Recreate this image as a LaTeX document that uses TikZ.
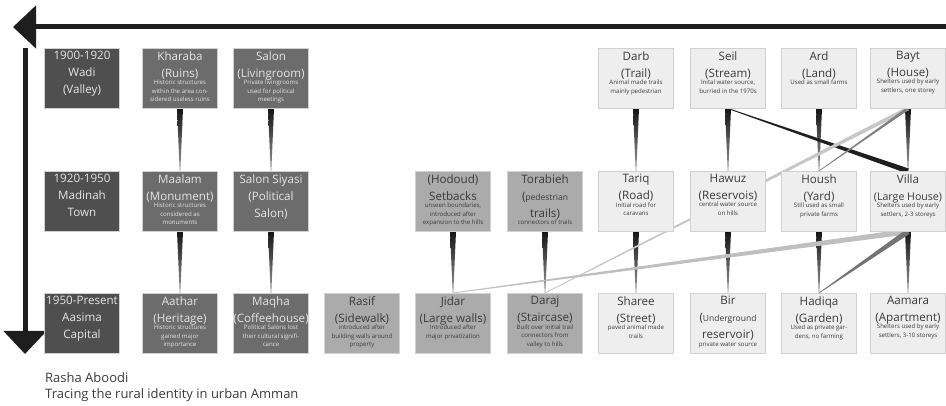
\documentclass[tikz,border=0pt]{standalone}
\usepackage{fontspec}
\setmainfont{Open Sans}
\usepackage{tikz}
\usetikzlibrary{arrows.meta,calc,backgrounds}
\definecolor{eragray}{HTML}{4F4F4F}
\definecolor{oldgray}{HTML}{6C6C6C}
\definecolor{midgray}{HTML}{ABABAB}
\definecolor{palegray}{HTML}{EEEEEE}
\definecolor{inkgray}{HTML}{3A3A3A}
\definecolor{linkgray}{HTML}{1E1E1E}
% box text: title lines, then small description
\newcommand{\cell}[2]{\makebox[75pt]{\parbox[c][58pt][t]{90pt}{\centering\vspace*{2pt}%
  \fontsize{11.6}{17}\selectfont #1\par\vspace{-1.4pt}%
  \fontsize{6.1}{8.7}\selectfont #2\par}}}
% tapered link: from, to, half width at from, half width at to
\newcommand{\taper}[5][]{\path[#1] ($(#2)!#4!90:(#3)$) -- ($(#3)!#5!-90:(#2)$)
  -- ($(#3)!#5!90:(#2)$) -- ($(#2)!#4!-90:(#3)$) -- cycle;}
\tikzset{
  cell/.style={rectangle, anchor=north, inner sep=0pt, minimum width=75pt,
               minimum height=60pt, draw=white!82!black, line width=0.5pt},
  era/.style={cell, fill=eragray, text=white!90!black},
  old/.style={cell, fill=oldgray, text=white!90!black},
  mid/.style={cell, fill=midgray, text=inkgray},
  pale/.style={cell, fill=palegray, text=inkgray},
  vlink/.style={top color=black!92, bottom color=black!40},
  timeline/.style={line width=5pt, draw=linkgray, fill=linkgray,
                   -{Triangle[length=23pt,width=42pt]}},
  credit/.style={anchor=base west, inner sep=0pt, text=inkgray, font=\fontsize{13}{15}\selectfont}
}
\begin{document}
\begin{tikzpicture}[x=1pt, y=-1pt]
      \useasboundingbox (0,0) rectangle (946,406);

      % time axes
      \coordinate (hstart) at (946,27);
      \coordinate (hend) at (13,27);
      \coordinate (vstart) at (25,48);
      \coordinate (vend) at (25,354);
      \draw[timeline] (hstart) -- (hend);
      \draw[timeline] (vstart) -- (vend);

      % 1900-1920
      \node[era] (wadi) at (82,48) {\cell{1900-1920\\Wadi\\(Valley)}{}};
      \node[old] (kharaba) at (180,48) {\cell{Kharaba\\(Ruins)}{Historic structures\\within the area con-\\sidered useless ruins}};
      \node[old] (salon) at (271,48) {\cell{Salon\\(Livingroom)}{Private livingrooms\\used for political\\meetings}};
      \node[pale] (darb) at (636,48) {\cell{Darb\\(Trail)}{Animal made trails\\mainly pedestrian}};
      \node[pale] (seil) at (728,48) {\cell{Seil\\(Stream)}{Inital water source,\\burried in the 1970s}};
      \node[pale] (ard) at (819,48) {\cell{Ard\\(Land)}{Used as small farms}};
      \node[pale] (bayt) at (908,48) {\cell{Bayt\\(House)}{Shelters used by early\\settlers, one storey}};

      % 1920-1950
      \node[era] (madinah) at (82,171) {\cell{1920-1950\\Madinah\\Town}{}};
      \node[old] (maalam) at (180,171) {\cell{Maalam\\(Monument)}{Historic structures\\considered as\\monuments}};
      \node[old] (siyasi) at (271,171) {\cell{Salon Siyasi\\(Political\\Salon)}{}};
      \node[mid] (hodoud) at (453,171) {\cell{(Hodoud)\\Setbacks}{unseen boundaries,\\introduced after\\expansion to the hills}};
      \node[mid] (torabieh) at (545,171) {\cell{Torabieh\\({\fontsize{8.5}{17}\selectfont pedestrian}\\trails)}{connectors of trails}};
      \node[pale] (tariq) at (636,171) {\cell{Tariq\\(Road)}{Initial road for\\caravans}};
      \node[pale] (hawuz) at (728,171) {\cell{Hawuz\\(Reservois)}{central water source\\on hills}};
      \node[pale] (housh) at (819,171) {\cell{Housh\\(Yard)}{Still used as small\\private farms}};
      \node[pale] (villa) at (908,171) {\cell{Villa\\{\fontsize{10.6}{17}\selectfont(Large House)}}{Shelters used by early\\settlers, 2-3 storeys}};

      % 1950-Present
      \node[era] (aasima) at (82,293) {\cell{1950-Present\\Aasima\\Capital}{}};
      \node[old] (aathar) at (180,293) {\cell{Aathar\\(Heritage)}{Historic structures\\gained major\\importance}};
      \node[old] (maqha) at (271,293) {\cell{Maqha\\(Coffeehouse)}{Political Salons lost\\their cultural signifi-\\cance}};
      \node[mid] (rasif) at (362,293) {\cell{Rasif\\(Sidewalk)}{introduced after\\building walls around\\property}};
      \node[mid] (jidar) at (453,293) {\cell{Jidar\\(Large walls)}{Introduced after\\major privatization}};
      \node[mid] (daraj) at (545,293) {\cell{Daraj\\(Staircase)}{Built over initial trail\\connectors from\\valley to hills}};
      \node[pale] (sharee) at (636,293) {\cell{Sharee\\(Street)}{paved animal made\\trails}};
      \node[pale] (bir) at (728,293) {\cell{Bir\\({\fontsize{8.5}{17}\selectfont Underground}\\reservoir)}{private water source}};
      \node[pale] (hadiqa) at (819,293) {\cell{Hadiqa\\(Garden)}{Used as private gar-\\dens, no farming}};
      \node[pale] (aamara) at (908,293) {\cell{Aamara\\(Apartment)}{Shelters used by early\\settlers, 3-10 storeys}};

      \begin{scope}[on background layer]
          \taper[vlink]{kharaba.south}{maalam.north}{3pt}{0.3pt}
          \taper[vlink]{maalam.south}{aathar.north}{3pt}{0.3pt}
          \taper[vlink]{salon.south}{siyasi.north}{3pt}{0.3pt}
          \taper[vlink]{siyasi.south}{maqha.north}{3pt}{0.3pt}
          \taper[vlink]{hodoud.south}{jidar.north}{3pt}{0.3pt}
          \taper[vlink]{torabieh.south}{daraj.north}{3pt}{0.3pt}
          \taper[vlink]{darb.south}{tariq.north}{3pt}{0.3pt}
          \taper[vlink]{tariq.south}{sharee.north}{3pt}{0.3pt}
          \taper[vlink]{seil.south}{hawuz.north}{3pt}{0.3pt}
          \taper[vlink]{hawuz.south}{bir.north}{3pt}{0.3pt}
          \taper[vlink]{ard.south}{housh.north}{3pt}{0.3pt}
          \taper[vlink]{housh.south}{hadiqa.north}{3pt}{0.3pt}
          \taper[vlink]{bayt.south}{villa.north}{3pt}{0.3pt}
          \taper[vlink]{villa.south}{aamara.north}{3pt}{0.3pt}
          % cross links
          \taper[fill=black!88]{villa.north}{seil.south}{2.6pt}{0.4pt}
          \taper[fill=black!22]{bayt.south}{daraj.north}{2pt}{0.4pt}
          \taper[fill=black!50]{bayt.south}{housh.north}{1.5pt}{0.3pt}
          \taper[fill=black!25]{villa.south}{jidar.north}{2.8pt}{0.4pt}
          \taper[fill=black!55]{villa.south}{hadiqa.north}{2.8pt}{0.3pt}
      \end{scope}

      \node[credit] (author) at (45,382) {Rasha Aboodi};
      \node[credit] (subject) at (45,398) {Tracing the rural identity in urban Amman};
\end{tikzpicture}
\end{document}
